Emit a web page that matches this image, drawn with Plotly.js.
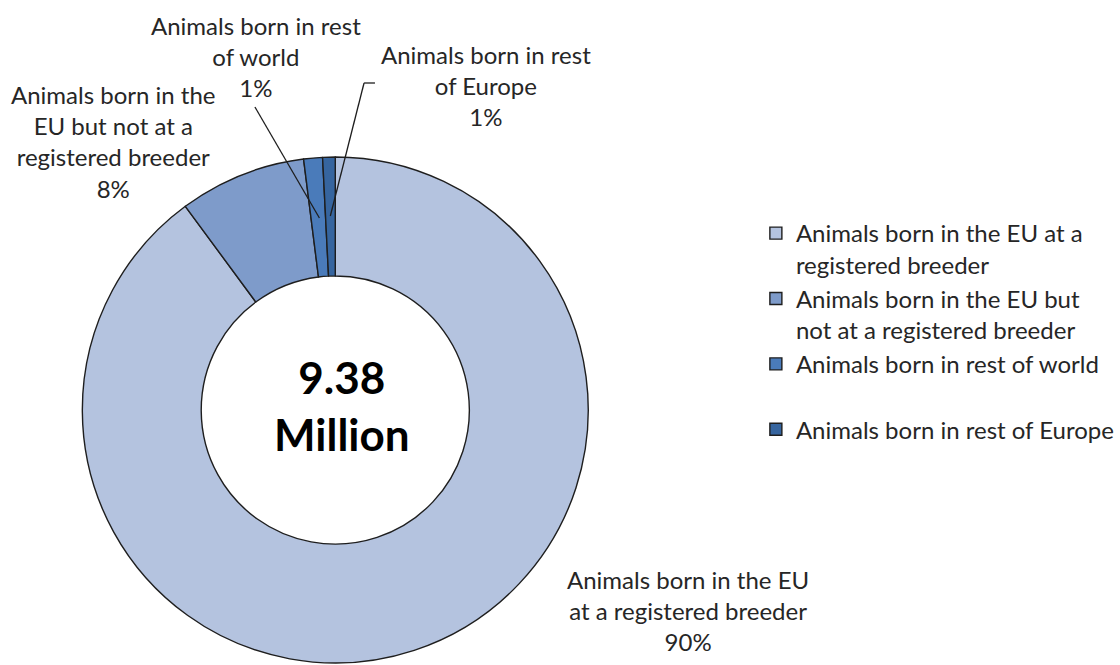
<!DOCTYPE html>
<html>
<head>
<meta charset="utf-8">
<script src="https://cdn.plot.ly/plotly-3.0.1.min.js"></script>
<style>html,body{margin:0;padding:0;background:#fff;}#chart{width:1120px;height:665px;}</style>
</head>
<body>
<div id="chart"></div>
<script>
// ---- data ----
const categories = [
  "Animals born in the EU at a registered breeder",
  "Animals born in the EU but not at a registered breeder",
  "Animals born in rest of world",
  "Animals born in rest of Europe"
];
const legendLabels = [
  "Animals born in the EU at a<br>registered breeder",
  "Animals born in the EU but<br>not at a registered breeder",
  "Animals born in rest of world<br> ",
  "Animals born in rest of Europe"
];
const shares = [89.9, 8.1, 1.2, 0.8];
const percentLabels = ["90%", "8%", "1%", "1%"];
const totalLabel = "9.38<br>Million";
const sliceColors = ["#B4C3DF", "#7E9BCA", "#4A7BBA", "#36659F"];

const W = 1120, H = 665;
const px = x => x / W;
const py = y => 1 - y / H;
const FONT = "Lato, 'Open Sans', sans-serif";
const TXT = "#262626";
const FS = 24;

const trace = {
  type: "pie",
  labels: legendLabels,
  values: shares,
  customdata: categories,
  hovertemplate: "%{customdata}<br>%{percent}<extra></extra>",
  sort: false,
  direction: "clockwise",
  rotation: 0,
  hole: 0.53,
  textinfo: "none",
  marker: { colors: sliceColors, line: { color: "#1e1e1e", width: 1.4 } },
  domain: { x: [px(338 - 255), px(338 + 255)], y: [0, 510 / H] }
};

const annotations = [
  { text: "<b>" + totalLabel + "</b>", x: px(345), y: py(405), font: { size: 44, color: "#000", family: FONT } },
  { text: "Animals born in rest<br>of world<br>" + percentLabels[2], x: px(258), y: py(56), font: { size: FS, color: TXT, family: FONT } },
  { text: "Animals born in rest<br>of Europe<br>" + percentLabels[3], x: px(490), y: py(85), font: { size: FS, color: TXT, family: FONT } },
  { text: "Animals born in the<br>EU but not at a<br>registered breeder<br>" + percentLabels[1], x: px(114), y: py(142), font: { size: FS, color: TXT, family: FONT } },
  { text: "Animals born in the EU<br>at a registered breeder<br>" + percentLabels[0], x: px(694), y: py(610), font: { size: FS, color: TXT, family: FONT } }
].map(a => Object.assign({ xref: "paper", yref: "paper", showarrow: false, xanchor: "center", yanchor: "middle", align: "center" }, a));

const lineStyle = { color: "#1e1e1e", width: 1.3 };
const shapes = [
  { type: "line", x0: px(257), y0: py(107), x1: px(322), y1: py(218) },
  { type: "line", x0: px(378), y0: py(83), x1: px(367), y1: py(83) },
  { type: "line", x0: px(367), y0: py(83), x1: px(333), y1: py(216) }
].map(s => Object.assign({ xref: "paper", yref: "paper", line: lineStyle }, s));

const layout = {
  width: W, height: H,
  margin: { l: 0, r: 0, t: 0, b: 0 },
  paper_bgcolor: "#fff",
  showlegend: true,
  legend: {
    x: px(762), y: py(211), xanchor: "left", yanchor: "top",
    valign: "top",
    font: { size: FS, color: TXT, family: FONT },
    bgcolor: "rgba(0,0,0,0)"
  },
  annotations: annotations,
  shapes: shapes
};

Plotly.newPlot("chart", [trace], layout, { displayModeBar: false, staticPlot: true });
</script>
</body>
</html>
